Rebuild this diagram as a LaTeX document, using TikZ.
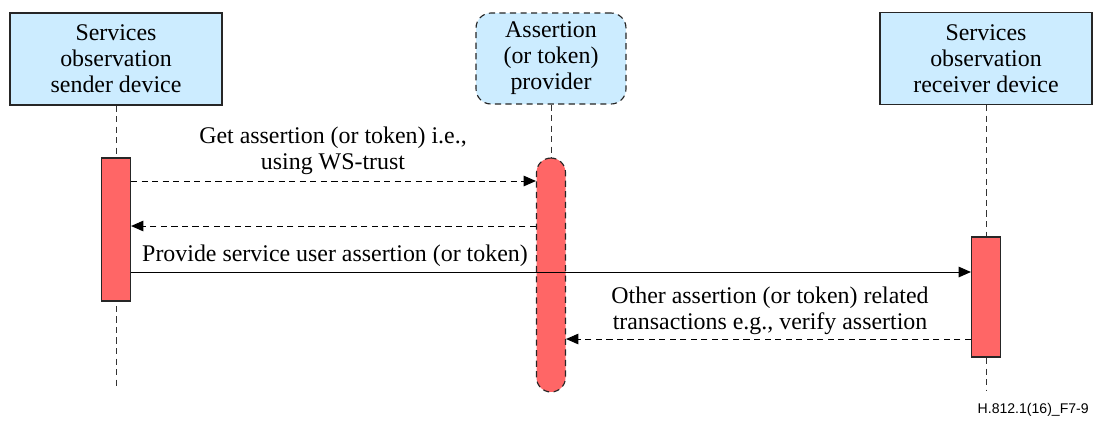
\documentclass[tikz,border=0pt]{standalone}
\usepackage{fontspec}
\setmainfont{Liberation Serif}
\newfontfamily\figidfont{Liberation Sans}
\usetikzlibrary{arrows.meta}

\definecolor{partyblue}{RGB}{204,236,255}
\definecolor{actred}{RGB}{255,102,102}

\newcommand{\SOpartyw}{4.24 cm}
\newcommand{\SOpartyh}{1.84 cm}
\newcommand{\SOactw}{0.58 cm}
\newcommand{\SOlifeend}{390}

\begin{document}
\begin{tikzpicture}[x=0.02cm,y=-0.02cm,
	party/.style={draw=black!85,fill=partyblue,line width=0.65pt,align=center,minimum width=\SOpartyw,minimum height=\SOpartyh,inner sep=0pt,font=\rmfamily\fontsize{13.6}{14.8}\selectfont},
	act/.style={draw=black!85,fill=actred,line width=0.65pt,minimum width=\SOactw,inner sep=0pt},
	life/.style={draw=black!80,line width=0.5pt,dash pattern=on 3.5pt off 2.5pt},
	msg/.style={line width=0.55pt,-{Triangle[length=7pt,width=6pt]}},
	dmsg/.style={msg,dash pattern=on 3.5pt off 2.5pt},
	lbl/.style={align=center,inner sep=0pt,font=\rmfamily\fontsize{13.6}{14.8}\selectfont}]

	\useasboundingbox (0,0) rectangle (1097,424);

	%The parties on top
	\node[party] (sender) at (116,59) {Services\\observation\\sender device};
	\node[party,minimum width=3 cm,minimum height=1.82 cm,rounded corners=.3 cm,dash pattern=on 3.5pt off 2.5pt] (provider) at (551,58.5) {Assertion\\(or token)\\provider};
	\node[party] (receiver) at (986,58.5) {Services\\observation\\receiver device};

	%The lifelines
	\coordinate (sendend) at (116,\SOlifeend);
	\coordinate (recvend) at (986,\SOlifeend);
	\draw[life] (sender) -- (sendend);
	\draw[life] (receiver) -- (recvend);

	%The activations
	\node[act,minimum height=2.86 cm] (sendact) at (116,229.5) {};
	\node[act,minimum height=4.68 cm,rounded corners=.29 cm,dash pattern=on 3.5pt off 2.5pt] (provact) at (551,275) {};
	\node[act,minimum height=2.4 cm] (recvact) at (986,297) {};
	\draw[life] (provider) -- (provact);

	%The messages
	\draw[dmsg] (sendact.east |- 0,181) -- (provact.west |- 0,181);
	\draw[dmsg] (provact.west |- 0,226) -- (sendact.east |- 0,226);
	\draw[msg] (sendact.east |- 0,272) -- (recvact.west |- 0,272);
	\draw[dmsg] (recvact.west |- 0,339) -- (provact.east |- 0,339);

	%The message texts
	\node[lbl] (gettxt) at (333,151) {Get assertion (or token) i.e.,\\using WS-trust};
	\node[lbl] (providetxt) at (335,256) {Provide service user assertion (or token)};
	\node[lbl] (othertxt) at (770,311) {Other assertion (or token) related\\transactions e.g., verify assertion};

	%Figure number
	\node[anchor=east,inner sep=0pt,font=\figidfont\fontsize{8}{9}\selectfont] (figid) at (1089,410) {H.812.1(16)\_F7-9};

\end{tikzpicture}
\end{document}
